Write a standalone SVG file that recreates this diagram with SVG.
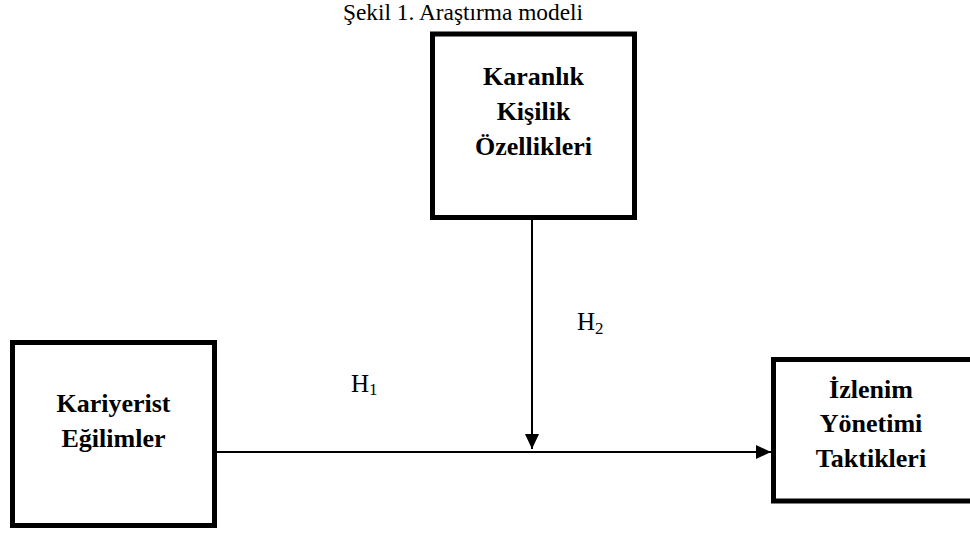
<svg xmlns="http://www.w3.org/2000/svg" width="970" height="533" viewBox="0 0 970 533">
  <style>
    .box { fill: #ffffff; stroke: #000000; stroke-width: 5; }
    .lbl { font-family: "Liberation Serif", "Times New Roman", serif; font-weight: bold; font-size: 26px; fill: #000; text-anchor: middle; }
    .cap { font-family: "Liberation Serif", "Times New Roman", serif; font-size: 23px; fill: #000; }
    .h { font-family: "Liberation Serif", "Times New Roman", serif; font-size: 25px; fill: #000; }
    .sub { font-size: 17px; }
    .conn { stroke: #000; stroke-width: 2; fill: none; }
  </style>
  <defs>
    <marker id="arrow" markerUnits="userSpaceOnUse" markerWidth="16" markerHeight="14" refX="15" refY="7" orient="auto">
      <path d="M0,0 L15,7 L0,14 z" fill="#000"/>
    </marker>
  </defs>
  <rect width="970" height="533" fill="#ffffff"/>
  <text class="cap" x="343" y="20" font-size="23" textLength="240" lengthAdjust="spacingAndGlyphs">Şekil 1. Araştırma modeli</text>

  <g id="connectors">
    <line class="conn" x1="217" y1="452" x2="771" y2="452" marker-end="url(#arrow)"/>
    <line class="conn" x1="532" y1="220" x2="532" y2="449" marker-end="url(#arrow)"/>
  </g>

  <g id="karanlik">
    <rect class="box" x="432.5" y="34" width="202" height="183.5"/>
    <text class="lbl" x="533.5" y="85">Karanlık</text>
    <text class="lbl" x="533.5" y="120">Kişilik</text>
    <text class="lbl" x="533.5" y="155">Özellikleri</text>
  </g>

  <g id="kariyerist">
    <rect class="box" x="12.5" y="342.5" width="202" height="183"/>
    <text class="lbl" x="113.5" y="412">Kariyerist</text>
    <text class="lbl" x="113.5" y="447">Eğilimler</text>
  </g>

  <g id="izlenim">
    <rect class="box" x="773.5" y="359.5" width="202" height="141.5"/>
    <text class="lbl" x="871" y="397.5">İzlenim</text>
    <text class="lbl" x="871" y="432">Yönetimi</text>
    <text class="lbl" x="871" y="466.5">Taktikleri</text>
  </g>

  <g id="labels">
    <text class="h" x="351" y="391.5">H<tspan class="sub" dy="3.5">1</tspan></text>
    <text class="h" x="577" y="330">H<tspan class="sub" dy="3.5">2</tspan></text>
  </g>
</svg>
